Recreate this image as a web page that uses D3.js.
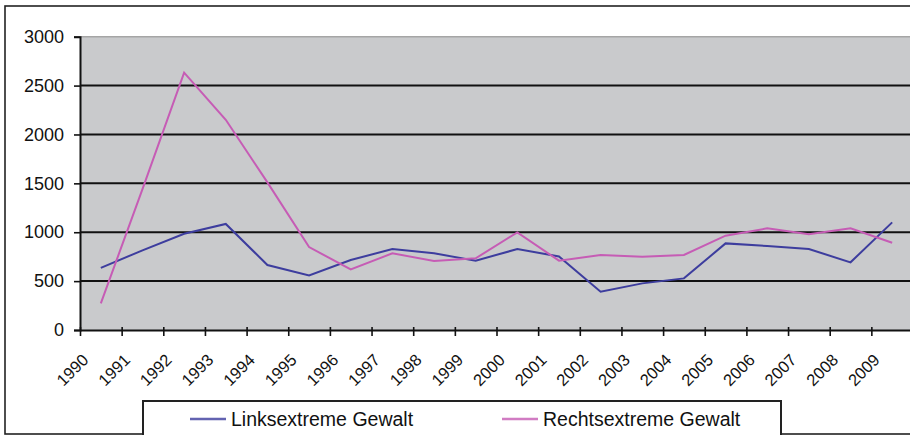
<!DOCTYPE html>
<html><head><meta charset="utf-8">
<script src="https://cdn.jsdelivr.net/npm/d3@7"></script>
<style>
html,body{margin:0;padding:0;background:#fff;}
svg{display:block;font-family:"Liberation Sans",Arial,sans-serif;}
</style></head>
<body>
<svg id="c" width="910" height="435"></svg>
<script>
const years = [1990,1991,1992,1993,1994,1995,1996,1997,1998,1999,2000,2001,2002,2003,2004,2005,2006,2007,2008,2009];
const linksextreme = [635,815,985,1085,665,557,716,828,784,709,828,752,392,477,528,886,859,828,692,1101];
const rechtsextreme = [273,1440,2632,2150,1510,848,620,784,706,733,999,709,767,750,767,965,1040,979,1040,893];
const yTicks = [0,500,1000,1500,2000,2500,3000];
const seriesNames = ["Linksextreme Gewalt","Rechtsextreme Gewalt"];
const seriesColors = ["#3d3d9e","#c65cb5"];

const svg = d3.select("#c");
const L = 80, R = 913, T = 36.7, B = 330;

// outer frame
svg.append("rect").attr("x",5).attr("y",6).attr("width",920).attr("height",428)
  .attr("fill","#fff").attr("stroke","#222").attr("stroke-width",1.6);

const xBand = d3.scaleBand().domain(years).range([L,R]).padding(0);
const xEdge = d3.scaleLinear().domain([0,years.length]).range([L,R]);
const y = d3.scaleLinear().domain([0,3000]).range([B,T]);

// plot area
svg.append("rect").attr("x",L).attr("y",T).attr("width",R-L).attr("height",B-T).attr("fill","#c9cacc");
svg.append("line").attr("x1",L).attr("x2",R).attr("y1",y(3000)).attr("y2",y(3000))
  .attr("stroke","#a5a5a5").attr("stroke-width",1.5);

// gridlines
svg.append("g").selectAll("line").data(yTicks.filter(v=>v>0&&v<3000)).join("line")
  .attr("x1",L).attr("x2",R).attr("y1",d=>y(d)).attr("y2",d=>y(d))
  .attr("stroke","#111").attr("stroke-width",2);

// y axis
const ya = svg.append("g").attr("transform",`translate(${L},0)`)
  .call(d3.axisLeft(y).tickValues(yTicks).tickSize(6).tickPadding(10).tickFormat(d3.format("d")));
ya.select(".domain").attr("stroke","#111").attr("stroke-width",2);
ya.selectAll(".tick line").attr("stroke","#111").attr("stroke-width",1.6);
ya.selectAll("text").attr("font-size",18).attr("fill","#111").attr("font-family","Liberation Sans, Arial, sans-serif");

// x axis
const xa = svg.append("g").attr("transform",`translate(0,${B})`)
  .call(d3.axisBottom(xEdge).tickValues(d3.range(0,years.length+1)).tickSize(6).tickSizeOuter(0)
    .tickFormat(i => i < years.length ? String(years[i]) : ""));
xa.select(".domain").attr("stroke","#111").attr("stroke-width",2);
xa.selectAll(".tick line").attr("stroke","#111").attr("stroke-width",1.6).attr("y1",-3);
xa.selectAll(".tick text").attr("font-size",16.5).attr("fill","#111")
  .attr("font-family","Liberation Sans, Arial, sans-serif")
  .attr("text-anchor","end").attr("y",0).attr("dy",0)
  .attr("transform","translate(9,31) rotate(-45)");

// lines
const line = d3.line().x((d,i)=>xBand(years[i])+xBand.bandwidth()/2).y(d=>y(d));
[linksextreme, rechtsextreme].forEach((s,k)=>{
  svg.append("path").datum(s).attr("d",line).attr("fill","none")
    .attr("stroke",seriesColors[k]).attr("stroke-width",2).attr("stroke-linejoin","miter");
});

// legend
const lg = svg.append("g");
lg.append("rect").attr("x",143).attr("y",401).attr("width",638).attr("height",40)
  .attr("fill","#fff").attr("stroke","#222").attr("stroke-width",2);
const legX = [190, 502];
seriesNames.forEach((n,k)=>{
  lg.append("line").attr("x1",legX[k]).attr("x2",legX[k]+36).attr("y1",419).attr("y2",419)
    .attr("stroke",seriesColors[k]).attr("stroke-width",2.5).attr("opacity",0.8);
  lg.append("text").attr("x",legX[k]+41).attr("y",426).attr("font-size",19.5).attr("fill","#111").text(n);
});
</script>
</body></html>
